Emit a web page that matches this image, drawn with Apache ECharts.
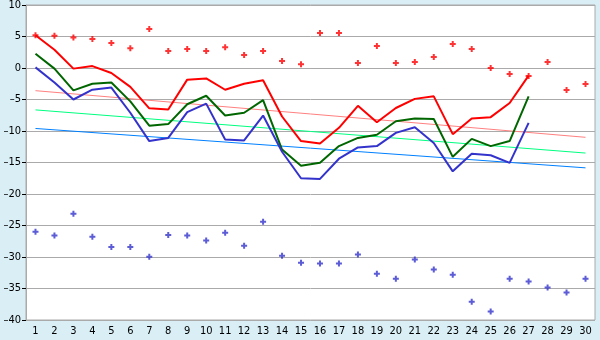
<!DOCTYPE html>
<html><head><meta charset="utf-8">
<script src="https://cdn.jsdelivr.net/npm/echarts@6/dist/echarts.min.js"></script>
<style>html,body{margin:0;padding:0;background:#d9eef5;}#c{width:600px;height:340px;}</style>
</head><body><div id="c"></div>
<script>
const categories = Array.from({length:30},(_,i)=>String(i+1));
const redLine = [5.2,2.9,-0.1,0.3,-0.8,-3.0,-6.4,-6.6,-1.85,-1.65,-3.45,-2.5,-1.95,-7.7,-11.6,-12.0,-9.5,-6.0,-8.6,-6.35,-4.9,-4.5,-10.5,-8.0,-7.8,-5.55,-1.2];
const greenLine = [2.25,-0.1,-3.55,-2.5,-2.3,-5.3,-9.15,-8.9,-5.75,-4.4,-7.55,-7.1,-5.1,-12.95,-15.5,-15.05,-12.4,-11.1,-10.6,-8.45,-8.0,-8.1,-14.1,-11.25,-12.4,-11.6,-4.5];
const blueLine = [0.1,-2.3,-5.0,-3.45,-3.1,-7.1,-11.6,-11.1,-7.0,-5.65,-11.35,-11.5,-7.55,-13.3,-17.5,-17.6,-14.4,-12.6,-12.4,-10.3,-9.4,-11.9,-16.4,-13.6,-13.85,-15.05,-8.7];
const redPoints = [5.2,5.1,4.85,4.6,3.95,3.15,6.2,2.7,3.0,2.7,3.3,2.05,2.7,1.1,0.6,5.55,5.55,0.8,3.5,0.8,0.95,1.75,3.8,3.0,0.0,-0.95,-1.27,0.95,-3.5,-2.55];
const bluePoints = [-26.0,-26.6,-23.15,-26.8,-28.4,-28.4,-29.95,-26.5,-26.6,-27.4,-26.15,-28.2,-24.4,-29.8,-30.9,-31.05,-31.05,-29.6,-32.65,-33.45,-30.4,-32.0,-32.8,-37.1,-38.65,-33.45,-33.9,-34.85,-35.65,-33.45];
const redTrend = [-3.6,-11.0];
const greenTrend = [-6.65,-13.5];
const blueTrend = [-9.6,-15.85];

function trend(ends){
  const d = categories.map(()=>null);
  d[0]=ends[0]; d[d.length-1]=ends[1];
  return d;
}
const sym = 'path://M2,0H4V2H6V4H4V6H2V4H0V2H2Z';
const chart = echarts.init(document.getElementById('c'), null, {renderer:'canvas'});
const font = 'DejaVu Sans Condensed';
chart.setOption({
  backgroundColor:'#d9eef5',
  animation:false,
  grid:{left:26,right:5,top:5,bottom:20,containLabel:false,outerBoundsMode:'none',show:true,backgroundColor:'#fff',borderColor:'#aaa',borderWidth:1},
  xAxis:{type:'category',data:categories,boundaryGap:true,
    axisLine:{lineStyle:{color:'#aaa'}},
    axisTick:{alignWithLabel:true,length:5,lineStyle:{color:'#000'}},
    axisLabel:{color:'#000',fontFamily:font,fontSize:11,margin:6,interval:0},
    splitLine:{show:false}},
  yAxis:{type:'value',min:-40,max:10,interval:5,
    axisLine:{show:true,lineStyle:{color:'#aaa'}},
    axisTick:{show:true,length:4,lineStyle:{color:'#000'}},
    axisLabel:{color:'#000',fontFamily:font,fontSize:11,margin:5,formatter:v=>String(v).replace('-','\u2013')},
    splitLine:{lineStyle:{color:'#aaa',width:1}}},
  series:[
    {type:'line',data:trend(redTrend),connectNulls:true,symbol:'none',lineStyle:{color:'#ff8080',width:1},itemStyle:{color:'#ff8080'}},
    {type:'line',data:trend(greenTrend),connectNulls:true,symbol:'none',lineStyle:{color:'#00ff80',width:1},itemStyle:{color:'#00ff80'}},
    {type:'line',data:trend(blueTrend),connectNulls:true,symbol:'none',lineStyle:{color:'#0080ff',width:1},itemStyle:{color:'#0080ff'}},
    {type:'line',data:redLine,symbol:'none',lineStyle:{color:'#ff0000',width:2},itemStyle:{color:'#ff0000'}},
    {type:'line',data:greenLine,symbol:'none',lineStyle:{color:'#006600',width:2},itemStyle:{color:'#006600'}},
    {type:'line',data:blueLine,symbol:'none',lineStyle:{color:'#3333cc',width:2},itemStyle:{color:'#3333cc'}},
    {type:'scatter',data:redPoints,symbol:sym,symbolSize:6,itemStyle:{color:'#ff0000'}},
    {type:'scatter',data:bluePoints,symbol:sym,symbolSize:6,itemStyle:{color:'#3333cc'}}
  ]
});
</script></body></html>
